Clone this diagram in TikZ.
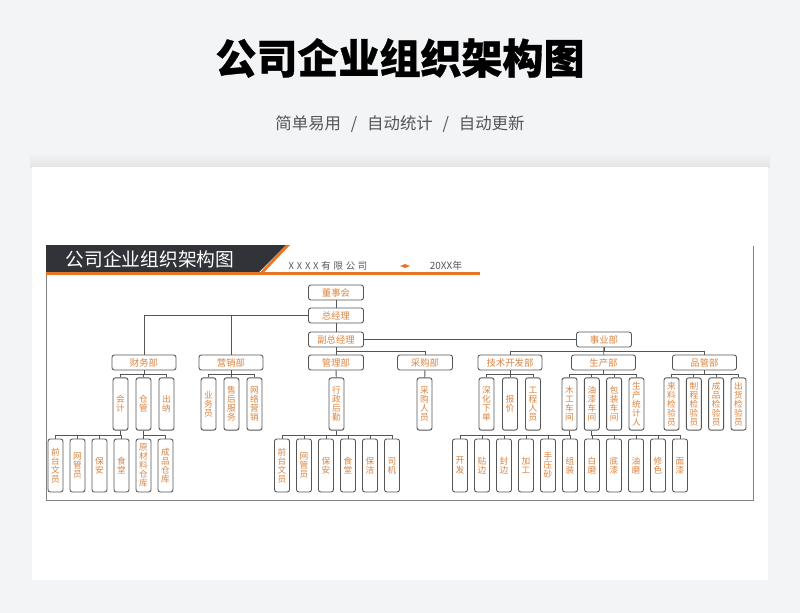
\documentclass[tikz,border=0pt]{standalone}
\usepackage{fontspec}
\setmainfont{Noto Sans CJK SC}
\newfontfamily\widefont[LetterSpace=30]{Noto Sans CJK SC}
\usepackage{tikz}
\usetikzlibrary{positioning}
\usepackage{xcolor}
\definecolor{ocbg}{RGB}{243,244,246}
\definecolor{ocshadow}{RGB}{228,229,231}
\definecolor{ocdark}{RGB}{49,51,56}
\definecolor{ocorange}{RGB}{232,118,38}
\definecolor{octext}{RGB}{218,132,64}
\definecolor{ocline}{RGB}{85,85,85}
\definecolor{ocframe}{RGB}{130,130,130}
\definecolor{ocsub}{RGB}{85,85,85}
\tikzstyle{topbox} = [rectangle, rounded corners=2pt, minimum width=1.65cm, minimum height=0.45cm, inner sep=0pt, draw=ocline, fill=white, line width=0.75pt, text=octext, font=\fontsize{8}{9}\selectfont]
\tikzstyle{deptbox} = [topbox, minimum width=1.92cm]
\tikzstyle{vbox} = [rectangle, rounded corners=2pt, minimum width=0.45cm, minimum height=1.57cm, inner sep=0pt, draw=ocline, fill=white, line width=0.75pt, text=octext, align=center, font=\fontsize{7.4}{7.7}\selectfont]
\tikzstyle{link} = [ocline, line width=0.7pt]

\begin{document}
\begin{tikzpicture}[x=0.03cm, y=-0.03cm, node distance=0.69cm]
% Page and card
\useasboundingbox (0,0) rectangle (800,613);
\fill[ocbg] (0,0) rectangle (800,613);
\shade[top color=ocbg, bottom color=ocshadow] (30,152) rectangle (770,167);
\node (card) [rectangle, fill=white, inner sep=0pt, minimum width=22.08cm, minimum height=12.39cm] at (400,373.5) {};

% Headline
\node (title) at (400,58) {\fontsize{35}{40}\selectfont\bfseries\addfontfeature{FakeBold=0.8} 公司企业组织架构图};
\node (subtitle) [text=ocsub] at (400,124) {\fontsize{14}{16}\selectfont 简单易用\hspace{0.6em}/\hspace{0.6em}自动统计\hspace{0.6em}/\hspace{0.6em}自动更新};

% Chart frame and header band
\draw[ocframe, line width=0.8pt] (46,272) -- (46,500) -- (753,500) -- (753,246);
\fill[ocdark] (46,245) -- (286,245) -- (259,272) -- (46,272) -- cycle;
\fill[ocorange] (286,245) -- (290,245) -- (262,274.5) -- (258,274.5) -- cycle;
\fill[ocorange] (46,272) rectangle (480,274.5);
\node (charthead) [text=white] at (150,259) {\fontsize{16}{18}\selectfont 公司企业组织架构图};
\node (company) [text=ocsub] at (328,266) {\widefont\fontsize{8}{10}\selectfont XXXX有限公司};
\fill[ocorange] (400,266) -- (405,264) -- (410,266) -- (405,268) -- cycle;
\node (year) [text=ocsub] at (446,266) {\fontsize{8.5}{10}\selectfont 20XX年};

% Top management
\node (board) [topbox] at (336,292.5) {董事会};
\node (gm) [topbox, below of=board] {总经理};
\node (vgm) [topbox, below of=gm, yshift=-0.03cm] {副总经理};
\node (biz) [topbox, right of=vgm, xshift=7.35cm] {事业部};

% Departments
\node (fin) [deptbox] at (144,362.5) {财务部};
\node (mkt) [deptbox, right of=fin, xshift=1.92cm] {营销部};
\node (adm) [topbox, below of=vgm] {管理部};
\node (pur) [topbox, right of=adm, xshift=1.98cm] {采购部};
\node (tech) [deptbox] at (510,362.5) {技术开发部};
\node (prod) [deptbox, right of=tech, xshift=2.115cm] {生产部};
\node (qc) [deptbox, right of=prod, xshift=2.34cm] {品管部};

% Second level
\node (acct) [vbox] at (120.5,404) {会\\计};
\node (store) [vbox, right of=acct] {仓\\管};
\node (cash) [vbox, right of=store] {出\\纳};
\node (sales) [vbox] at (208.5,404) {业\\务\\员};
\node (service) [vbox, right of=sales] {售\\后\\服\\务};
\node (online) [vbox, right of=service] {网\\络\\营\\销};
\node (logistics) [vbox] at (336.5,404) {行\\政\\后\\勤};
\node (buyer) [vbox] at (424.5,404) {采\\购\\人\\员};
\node (detail) [vbox] at (486.5,404) {深\\化\\下\\单};
\node (quote) [vbox, right of=detail, xshift=0.015cm] {报\\价};
\node (engineer) [vbox, right of=quote] {工\\程\\人\\员};
\node (wood) [vbox] at (569.5,404) {木\\工\\车\\间};
\node (paint) [vbox, right of=wood, xshift=-0.02cm] {油\\漆\\车\\间};
\node (pack) [vbox, right of=paint, xshift=-0.02cm] {包\\装\\车\\间};
\node (stat) [vbox, right of=pack, xshift=-0.02cm] {生\\产\\统\\计\\人};
\node (inqc) [vbox] at (671.5,404) {来\\料\\检\\验\\员};
\node (proqc) [vbox, right of=inqc, xshift=-0.02cm] {制\\程\\检\\验\\员};
\node (fgqc) [vbox, right of=proqc, xshift=-0.02cm] {成\\品\\检\\验\\员};
\node (outqc) [vbox, right of=fgqc, xshift=-0.02cm] {出\\货\\检\\验\\员};

% Third level
\node (frontA) [vbox, minimum height=1.59cm] at (55.5,465.5) {前\\台\\文\\员};
\node (netA) [vbox, minimum height=1.59cm, right of=frontA, xshift=-0.03cm] {网\\管\\员};
\node (guardA) [vbox, minimum height=1.59cm, right of=netA, xshift=-0.03cm] {保\\安};
\node (canteenA) [vbox, minimum height=1.59cm, right of=guardA, xshift=-0.03cm] {食\\堂};
\node (rawstore) [vbox, minimum height=1.59cm, right of=canteenA, xshift=-0.03cm] {原\\材\\料\\仓\\库};
\node (goodsstore) [vbox, minimum height=1.59cm, right of=rawstore, xshift=-0.03cm] {成\\品\\仓\\库};
\node (frontB) [vbox, minimum height=1.59cm] at (282,465.5) {前\\台\\文\\员};
\node (netB) [vbox, minimum height=1.59cm, right of=frontB, xshift=-0.03cm] {网\\管\\员};
\node (guardB) [vbox, minimum height=1.59cm, right of=netB, xshift=-0.03cm] {保\\安};
\node (canteenB) [vbox, minimum height=1.59cm, right of=guardB, xshift=-0.03cm] {食\\堂};
\node (cleaner) [vbox, minimum height=1.59cm, right of=canteenB, xshift=-0.03cm] {保\\洁};
\node (driver) [vbox, minimum height=1.59cm, right of=cleaner, xshift=-0.03cm] {司\\机};
\node (dev) [vbox, minimum height=1.59cm] at (460,465.5) {开\\发};
\node (edge) [vbox, minimum height=1.59cm, right of=dev, xshift=-0.03cm] {贴\\边};
\node (seal) [vbox, minimum height=1.59cm, right of=edge, xshift=-0.03cm] {封\\边};
\node (machining) [vbox, minimum height=1.59cm, right of=seal, xshift=-0.03cm] {加\\工};
\node (sanding) [vbox, minimum height=1.59cm, right of=machining, xshift=-0.03cm] {手\\压\\砂};
\node (assembly) [vbox, minimum height=1.59cm, right of=sanding, xshift=-0.03cm] {组\\装};
\node (whitesand) [vbox, minimum height=1.59cm, right of=assembly, xshift=-0.03cm] {白\\磨};
\node (primer) [vbox, minimum height=1.59cm, right of=whitesand, xshift=-0.03cm] {底\\漆};
\node (oilsand) [vbox, minimum height=1.59cm, right of=primer, xshift=-0.03cm] {油\\磨};
\node (tint) [vbox, minimum height=1.59cm, right of=oilsand, xshift=-0.03cm] {修\\色};
\node (topcoat) [vbox, minimum height=1.59cm, right of=tint, xshift=-0.03cm] {面\\漆};

% Connectors, top
\draw[link] (board) -- (gm);
\draw[link] (gm) -- (vgm);
\draw[link] (gm.west) -| (fin.north);
\draw[link] (gm.west) -| (mkt.north);
\draw[link] (vgm.east) -- (biz.west);
\draw[link] (vgm) -- (adm);
\draw[link] (vgm.south) -- ++(0,4) -| (pur.north);
\draw[link] (biz.south) -- ++(0,3.5) -| (tech.north);
\draw[link] (biz.south) -- ++(0,3.5) -| (qc.north);
\draw[link] (biz) -- (prod);

% Connectors, departments
\draw[link] (fin.south) -- ++(0,4) -| (acct.north) (fin.south) -- ++(0,4) -| (store.north) (fin.south) -- ++(0,4) -| (cash.north);
\draw[link] (mkt.south) -- ++(0,4) -| (sales.north) (mkt.south) -- ++(0,4) -| (service.north) (mkt.south) -- ++(0,4) -| (online.north);
\draw[link] (adm) -- (logistics);
\draw[link] (pur) -- (buyer);
\draw[link] (tech.south) -- ++(0,4) -| (detail.north) (tech.south) -- ++(0,4) -| (quote.north) (tech.south) -- ++(0,4) -| (engineer.north);
\draw[link] (prod.south) -- ++(0,4) -| (wood.north) (prod.south) -- ++(0,4) -| (paint.north) (prod.south) -- ++(0,4) -| (pack.north) (prod.south) -- ++(0,4) -| (stat.north);
\draw[link] (qc.south) -- ++(0,4) -| (inqc.north) (qc.south) -- ++(0,4) -| (proqc.north) (qc.south) -- ++(0,4) -| (fgqc.north) (qc.south) -- ++(0,4) -| (outqc.north);

% Connectors, third level
\draw[link] (acct.south) -- ++(0,5) -| (frontA.north) (acct.south) -- ++(0,5) -| (netA.north) (acct.south) -- ++(0,5) -| (guardA.north) (acct.south) -- ++(0,5) -| (canteenA.north);
\draw[link] (store.south) -- ++(0,5) -| (rawstore.north) (store.south) -- ++(0,5) -| (goodsstore.north);
\draw[link] (logistics.south) -- ++(0,5) -| (frontB.north) (logistics.south) -- ++(0,5) -| (netB.north) (logistics.south) -- ++(0,5) -| (guardB.north) (logistics.south) -- ++(0,5) -| (canteenB.north) (logistics.south) -- ++(0,5) -| (cleaner.north) (logistics.south) -- ++(0,5) -| (driver.north);
\draw[link] (wood.south) -- ++(0,5) -| (dev.north) (wood.south) -- ++(0,5) -| (edge.north) (wood.south) -- ++(0,5) -| (seal.north) (wood.south) -- ++(0,5) -| (machining.north) (wood.south) -- ++(0,5) -| (sanding.north) (wood.south) -- ++(0,5) -| (assembly.north);
\draw[link] (paint.south) -- ++(0,5) -| (whitesand.north) (paint.south) -- ++(0,5) -| (primer.north) (paint.south) -- ++(0,5) -| (oilsand.north) (paint.south) -- ++(0,5) -| (tint.north) (paint.south) -- ++(0,5) -| (topcoat.north);
\end{tikzpicture}
\end{document}
